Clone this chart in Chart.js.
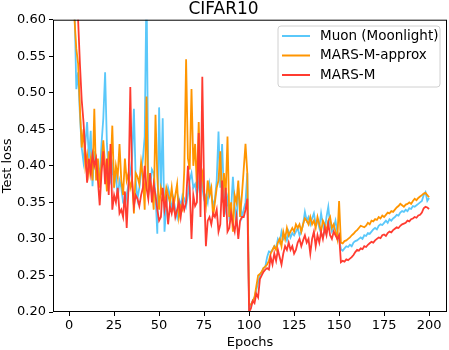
<!DOCTYPE html>
<html>
<head>
<meta charset="utf-8">
<script src="https://cdn.jsdelivr.net/npm/chart.js@4.4.0/dist/chart.umd.min.js"></script>
<style>
  html, body { margin: 0; padding: 0; background: #fff; }
  #wrap { width: 449px; height: 350px; }
</style>
</head>
<body>
<div id="wrap"><canvas id="lossChart" width="449" height="350"></canvas></div>
<script>
// data (test loss per epoch, epochs 1..200)
const epochs = Array.from({ length: 200 }, (_, i) => i + 1);
const seriesNames = ["Muon (Moonlight)", "MARS-M-approx", "MARS-M"];
const xTicks = [0, 25, 50, 75, 100, 125, 150, 175, 200];
const yTicks = [0.20, 0.25, 0.30, 0.35, 0.40, 0.45, 0.50, 0.55, 0.60];

const muon = [
  0.95, 0.75, 0.62, 0.505, 0.528, 0.47, 0.425, 0.405, 0.43, 0.46,
  0.41, 0.448, 0.372, 0.42, 0.39, 0.40, 0.385, 0.43, 0.465, 0.528,
  0.43, 0.39, 0.38, 0.40, 0.375, 0.39, 0.355, 0.38, 0.37, 0.35,
  0.345, 0.36, 0.375, 0.39, 0.41, 0.478, 0.38, 0.355, 0.37, 0.39,
  0.41, 0.44, 0.65, 0.38, 0.37, 0.395, 0.39, 0.36, 0.307, 0.48,
  0.36, 0.465, 0.31, 0.345, 0.37, 0.36, 0.34, 0.355, 0.34, 0.33,
  0.355, 0.345, 0.36, 0.355, 0.345, 0.36, 0.38, 0.39, 0.37, 0.375,
  0.36, 0.375, 0.40, 0.37, 0.355, 0.36, 0.35, 0.375, 0.36, 0.345,
  0.355, 0.38, 0.447, 0.37, 0.43, 0.36, 0.34, 0.355, 0.33, 0.34,
  0.385, 0.345, 0.32, 0.37, 0.35, 0.33, 0.34, 0.35, 0.39, 0.205,
  0.21, 0.215, 0.22, 0.23, 0.24, 0.25, 0.255, 0.26, 0.262, 0.275,
  0.283, 0.282, 0.285, 0.29, 0.288, 0.30, 0.295, 0.31, 0.30, 0.305,
  0.298, 0.31, 0.302, 0.308, 0.305, 0.31, 0.315, 0.305, 0.31, 0.32,
  0.337, 0.325, 0.33, 0.32, 0.328, 0.335, 0.32, 0.325, 0.315, 0.335,
  0.32, 0.31, 0.33, 0.344, 0.32, 0.31, 0.315, 0.325, 0.31, 0.30,
  0.286, 0.284, 0.287, 0.29, 0.289, 0.292, 0.29, 0.295, 0.297, 0.298,
  0.30, 0.302, 0.30, 0.305, 0.304, 0.308, 0.307, 0.31, 0.313, 0.315,
  0.313, 0.318, 0.32, 0.319, 0.322, 0.325, 0.322, 0.327, 0.325, 0.328,
  0.33, 0.333, 0.332, 0.336, 0.338, 0.337, 0.34, 0.338, 0.342, 0.341,
  0.345, 0.344, 0.346, 0.348, 0.35, 0.352, 0.36, 0.364, 0.352, 0.356
];

const marsApprox = [
  0.90, 0.70, 0.60, 0.56, 0.54, 0.48, 0.425, 0.45, 0.40, 0.415,
  0.39, 0.41, 0.38, 0.478, 0.38, 0.41, 0.37, 0.405, 0.435, 0.40,
  0.365, 0.42, 0.39, 0.455, 0.37, 0.40, 0.385, 0.43, 0.38, 0.36,
  0.41, 0.38, 0.39, 0.37, 0.38, 0.335, 0.39, 0.385, 0.375, 0.405,
  0.385, 0.34, 0.495, 0.36, 0.38, 0.37, 0.34, 0.47, 0.385, 0.34,
  0.37, 0.36, 0.35, 0.37, 0.36, 0.35, 0.37, 0.345, 0.36, 0.375,
  0.33, 0.345, 0.34, 0.395, 0.546, 0.41, 0.395, 0.505, 0.40, 0.43,
  0.37, 0.46, 0.38, 0.39, 0.36, 0.345, 0.38, 0.36, 0.37, 0.33,
  0.35, 0.37, 0.38, 0.42, 0.35, 0.39, 0.36, 0.44, 0.33, 0.35,
  0.31, 0.36, 0.35, 0.38, 0.33, 0.36, 0.395, 0.43, 0.39, 0.21,
  0.21, 0.215, 0.22, 0.235, 0.25, 0.252, 0.255, 0.26, 0.262, 0.265,
  0.27, 0.28, 0.285, 0.29, 0.285, 0.295, 0.30, 0.29, 0.31, 0.30,
  0.315, 0.305, 0.31, 0.315, 0.31, 0.32, 0.315, 0.32, 0.31, 0.32,
  0.328, 0.325, 0.32, 0.33, 0.32, 0.325, 0.315, 0.33, 0.32, 0.31,
  0.325, 0.32, 0.31, 0.325, 0.33, 0.315, 0.32, 0.31, 0.30, 0.352,
  0.295, 0.294, 0.297, 0.298, 0.30, 0.302, 0.305, 0.307, 0.31, 0.312,
  0.315, 0.318, 0.317, 0.316, 0.318, 0.322, 0.32, 0.325, 0.324, 0.327,
  0.326, 0.33, 0.328, 0.332, 0.33, 0.333, 0.336, 0.335, 0.338, 0.337,
  0.34, 0.343, 0.345, 0.348, 0.346, 0.344, 0.347, 0.348, 0.35, 0.348,
  0.352, 0.355, 0.353, 0.356, 0.358, 0.36, 0.362, 0.363, 0.36, 0.357
];

const marsM = [
  1.00, 0.85, 0.72, 0.66, 0.60, 0.54, 0.49, 0.46, 0.42, 0.377,
  0.41, 0.39, 0.415, 0.40, 0.41, 0.38, 0.346, 0.39, 0.42, 0.375,
  0.41, 0.36, 0.43, 0.34, 0.36, 0.35, 0.37, 0.335, 0.34, 0.33,
  0.365, 0.315, 0.37, 0.508, 0.38, 0.345, 0.36, 0.355, 0.345, 0.36,
  0.37, 0.40, 0.37, 0.355, 0.39, 0.35, 0.375, 0.36, 0.34, 0.325,
  0.33, 0.37, 0.34, 0.355, 0.32, 0.345, 0.335, 0.35, 0.33, 0.34,
  0.35, 0.33, 0.35, 0.34, 0.35, 0.40, 0.37, 0.30, 0.36, 0.345,
  0.35, 0.445, 0.33, 0.522, 0.37, 0.29, 0.325, 0.33, 0.32, 0.335,
  0.33, 0.34, 0.31, 0.32, 0.38, 0.33, 0.37, 0.31, 0.315, 0.335,
  0.32, 0.31, 0.33, 0.30, 0.325, 0.33, 0.33, 0.34, 0.355, 0.20,
  0.205, 0.215, 0.212, 0.225, 0.22, 0.245, 0.25, 0.255, 0.258, 0.26,
  0.258, 0.275, 0.265, 0.28, 0.27, 0.285, 0.275, 0.265, 0.28, 0.29,
  0.285, 0.295, 0.285, 0.29, 0.28, 0.285, 0.295, 0.30, 0.29, 0.298,
  0.305, 0.295, 0.30, 0.28, 0.30, 0.31, 0.29, 0.305, 0.295, 0.31,
  0.30, 0.315, 0.305, 0.321, 0.305, 0.30, 0.31, 0.305, 0.30, 0.305,
  0.268, 0.27, 0.269, 0.272, 0.271, 0.273, 0.275, 0.278, 0.282, 0.285,
  0.284, 0.287, 0.286, 0.29, 0.289, 0.292, 0.294, 0.296, 0.295, 0.298,
  0.30, 0.302, 0.301, 0.305, 0.306, 0.304, 0.308, 0.31, 0.309, 0.312,
  0.314, 0.316, 0.315, 0.318, 0.32, 0.321, 0.322, 0.325, 0.324, 0.327,
  0.328, 0.33, 0.329, 0.332, 0.333, 0.336, 0.342, 0.344, 0.343, 0.341
];

const colors = ["#5ac8fa", "#ff9500", "#ff3b30"];
const FONT = "'DejaVu Sans', sans-serif";

function toPoints(vals) {
  return vals.map((v, i) => ({ x: epochs[i], y: v }));
}

// box around the plot + legend inside upper right, matplotlib style
const frameAndLegend = {
  id: 'frameAndLegend',
  afterDraw(chart) {
    const { ctx, chartArea: a } = chart;
    ctx.save();
    ctx.strokeStyle = '#000';
    ctx.lineWidth = 1;
    ctx.strokeRect(a.left + 0.5, a.top + 0.5, a.right - a.left - 1, a.bottom - a.top - 1);

    // legend
    const bx = 278, by = 26, bw = 162, bh = 61, r = 3;
    ctx.beginPath();
    ctx.moveTo(bx + r, by);
    ctx.arcTo(bx + bw, by, bx + bw, by + bh, r);
    ctx.arcTo(bx + bw, by + bh, bx, by + bh, r);
    ctx.arcTo(bx, by + bh, bx, by, r);
    ctx.arcTo(bx, by, bx + bw, by, r);
    ctx.closePath();
    ctx.fillStyle = 'rgba(255,255,255,0.8)';
    ctx.fill();
    ctx.strokeStyle = '#d0d0d0';
    ctx.stroke();

    ctx.font = '13.5px ' + FONT;
    ctx.textBaseline = 'middle';
    ctx.textAlign = 'left';
    seriesNames.forEach((name, i) => {
      const y = 36 + i * 19.5;
      ctx.strokeStyle = colors[i];
      ctx.lineWidth = 2;
      ctx.beginPath();
      ctx.moveTo(282, y);
      ctx.lineTo(310, y);
      ctx.stroke();
      ctx.fillStyle = '#000';
      ctx.fillText(name, 320, y);
    });
    ctx.restore();
  }
};

const ctx = document.getElementById('lossChart').getContext('2d');
new Chart(ctx, {
  type: 'line',
  data: {
    datasets: [
      { label: seriesNames[0], data: toPoints(muon), borderColor: colors[0], order: 2 },
      { label: seriesNames[1], data: toPoints(marsApprox), borderColor: colors[1], order: 1 },
      { label: seriesNames[2], data: toPoints(marsM), borderColor: colors[2], order: 0 }
    ]
  },
  options: {
    responsive: false,
    animation: false,
    events: [],
    layout: { padding: { top: 0, right: 2, left: 0, bottom: 0 } },
    elements: {
      line: { borderWidth: 1.8, tension: 0, fill: false },
      point: { radius: 0 }
    },
    plugins: {
      legend: { display: false },
      tooltip: { enabled: false },
      title: {
        display: true,
        text: 'CIFAR10',
        color: '#000',
        font: { family: FONT, size: 17, weight: 'normal', lineHeight: 1.1 },
        padding: { top: 0, bottom: 1 }
      }
    },
    scales: {
      x: {
        type: 'linear',
        min: -8.95,
        max: 209.95,
        afterBuildTicks: (s) => { s.ticks = xTicks.map(v => ({ value: v })); },
        afterFit: (s) => { s.height = 38; },
        grid: { display: true, drawOnChartArea: false, drawTicks: true, tickLength: 4, color: '#000' },
        border: { display: false },
        ticks: { color: '#000', padding: 2, font: { family: FONT, size: 13 }, maxRotation: 0 },
        title: { display: true, text: 'Epochs', color: '#000', padding: { top: 0, bottom: 0 }, font: { family: FONT, size: 13 } }
      },
      y: {
        min: 0.20,
        max: 0.60,
        afterBuildTicks: (s) => { s.ticks = yTicks.map(v => ({ value: v })); },
        afterFit: (s) => { s.width = 53; },
        grid: { display: true, drawOnChartArea: false, drawTicks: true, tickLength: 4, color: '#000' },
        border: { display: false },
        ticks: { color: '#000', padding: 3, font: { family: FONT, size: 13 }, callback: (v) => v.toFixed(2) },
        title: { display: true, text: 'Test loss', color: '#000', padding: { top: 0, bottom: 0 }, font: { family: FONT, size: 13 } }
      }
    }
  },
  plugins: [frameAndLegend]
});
</script>
</body>
</html>
